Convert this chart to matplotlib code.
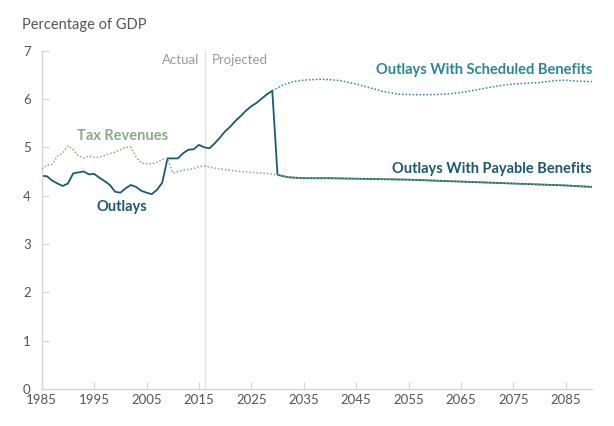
import matplotlib
matplotlib.use("Agg")
import matplotlib.pyplot as plt

# ---- data ----
outlay_years = list(range(1985, 2030)) + [2030, 2032, 2035, 2040, 2045, 2050, 2055, 2060,
                                          2065, 2070, 2075, 2080, 2085, 2090]
outlay_vals = [4.41, 4.40, 4.31, 4.25, 4.20, 4.25, 4.46, 4.48, 4.50, 4.44,
               4.45, 4.37, 4.30, 4.22, 4.08, 4.06, 4.15, 4.22, 4.18, 4.10,
               4.06, 4.03, 4.12, 4.27, 4.77, 4.77, 4.77, 4.88, 4.95, 4.96,
               5.05, 5.00, 4.98, 5.08, 5.20, 5.33, 5.43, 5.55, 5.65, 5.76,
               5.85, 5.92, 6.01, 6.10, 6.17,
               4.43, 4.38, 4.36, 4.36, 4.35, 4.34, 4.33, 4.31,
               4.29, 4.27, 4.25, 4.23, 4.21, 4.18]

sched_years = [2029, 2031, 2033, 2035, 2038, 2040, 2042, 2045, 2048, 2050, 2053,
               2056, 2060, 2063, 2066, 2069, 2072, 2075, 2078, 2080, 2083, 2085,
               2087, 2090]
sched_vals = [6.17, 6.29, 6.36, 6.39, 6.41, 6.40, 6.38, 6.31, 6.22, 6.16, 6.10,
              6.09, 6.09, 6.11, 6.15, 6.21, 6.27, 6.31, 6.33, 6.34, 6.38, 6.39,
              6.37, 6.36]

rev_years = list(range(1985, 2017)) + [2018, 2020, 2022, 2024, 2026, 2028, 2029,
                                       2030, 2032, 2035, 2040, 2045, 2050, 2055,
                                       2060, 2065, 2070, 2075, 2080, 2085, 2090]
rev_vals = [4.55, 4.63, 4.65, 4.82, 4.88, 5.03, 4.95, 4.82, 4.78, 4.82,
            4.79, 4.80, 4.83, 4.87, 4.90, 4.95, 5.00, 5.00, 4.80, 4.67,
            4.66, 4.66, 4.69, 4.75, 4.77, 4.47, 4.50, 4.53, 4.54, 4.56,
            4.60, 4.61, 4.57, 4.54, 4.51, 4.49, 4.47, 4.46, 4.44,
            4.43, 4.38, 4.36, 4.36, 4.35, 4.34, 4.33,
            4.31, 4.29, 4.27, 4.25, 4.23, 4.21, 4.18]

xticks = [1985, 1995, 2005, 2015, 2025, 2035, 2045, 2055, 2065, 2075, 2085]
yticks = [0, 1, 2, 3, 4, 5, 6, 7]

# ---- style ----
plt.rcParams['font.family'] = ['Lato', 'DejaVu Sans']
C_OUT = '#1b5a6e'
C_SCH = '#2a8797'
C_REV = '#85ad82'
GRID = '#d4d4d4'

fig = plt.figure(figsize=(6.14, 4.26), dpi=100)
ax = fig.add_axes([0.068, 0.0873, 0.896, 0.7937])

ax.axvline(2016.2, color='#e2e2e2', lw=1, zorder=0)

ax.plot(sched_years, sched_vals, color=C_SCH, lw=1.1, linestyle=(0, (1, 1.3)),
        zorder=3)
ax.plot(outlay_years, outlay_vals, color=C_OUT, lw=1.3, zorder=2,
        solid_joinstyle='round')
ax.plot(rev_years, rev_vals, color=C_REV, lw=1.1, linestyle=(0, (1, 1.3)),
        zorder=4)

ax.set_xlim(1985, 2090)
ax.set_ylim(0, 7)
ax.set_xticks(xticks)
ax.set_yticks(yticks)
for s in ['top', 'right']:
    ax.spines[s].set_visible(False)
for s in ['left', 'bottom']:
    ax.spines[s].set_color(GRID)
    ax.spines[s].set_linewidth(1)
ax.tick_params(axis='both', direction='in', length=5, color=GRID,
               labelcolor='#555555', labelsize=9.5)
ax.tick_params(axis='x', pad=4)
ax.tick_params(axis='y', pad=8)

fig.text(22 / 614, 1 - 25 / 426, 'Percentage of GDP', fontsize=10.5,
         color='#555555', va='center', ha='left')

ax.text(2015.0, 6.8, 'Actual', color='#9a9a9a', fontsize=9.5,
        ha='right', va='center')
ax.text(2017.4, 6.8, 'Projected', color='#9a9a9a', fontsize=9.5,
        ha='left', va='center')

ax.text(2000.5, 5.23, 'Tax Revenues', color=C_REV, fontsize=10.5,
        fontweight='bold', ha='center', va='center')
ax.text(2000.3, 3.77, 'Outlays', color=C_OUT, fontsize=10.5,
        fontweight='bold', ha='center', va='center')
ax.text(2090, 6.6, 'Outlays With Scheduled Benefits', color=C_SCH,
        fontsize=10.5, fontweight='bold', ha='right', va='center')
ax.text(2090, 4.55, 'Outlays With Payable Benefits', color=C_OUT,
        fontsize=10.5, fontweight='bold', ha='right', va='center')

fig.savefig('out.png', dpi=100)
